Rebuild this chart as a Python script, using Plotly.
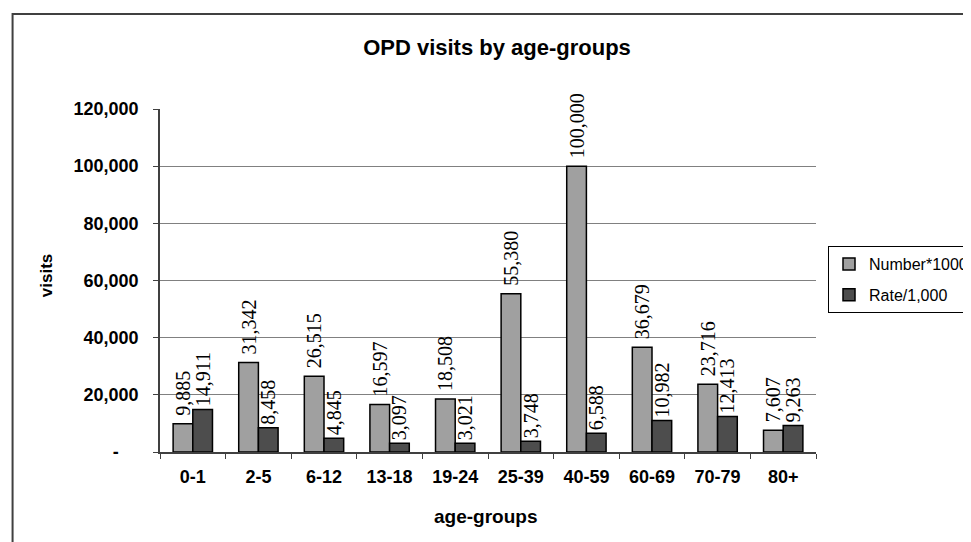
import plotly.graph_objects as go

age_groups = ["0-1", "2-5", "6-12", "13-18", "19-24", "25-39", "40-59", "60-69", "70-79", "80+"]
number_1000 = [9885, 31342, 26515, 16597, 18508, 55380, 100000, 36679, 23716, 7607]
rate_1000 = [14911, 8458, 4845, 3097, 3021, 3748, 6588, 10982, 12413, 9263]

y_tickvals = [0, 20000, 40000, 60000, 80000, 100000, 120000]
y_ticktext = ["-\u00a0\u00a0\u00a0\u00a0", "20,000", "40,000", "60,000", "80,000", "100,000", "120,000"]

SANS = "Liberation Sans"
SERIF = "Liberation Serif"

# the page body has an 8px margin, so the figure is drawn 8px smaller
W, H = 963, 534

fig = go.Figure()

fig.add_trace(
    go.Bar(
        x=age_groups,
        y=number_1000,
        name="Number*1000",
        legendgroup="a",
        marker={"color": "#A0A0A0", "line": {"color": "#000000", "width": 1.5}},
        texttemplate="\u00a0%{y:,}",
        textposition="outside",
        textangle=-90,
        constraintext="none",
        cliponaxis=False,
        textfont={"family": SERIF, "size": 20, "color": "#000000"},
    )
)

fig.add_trace(
    go.Bar(
        x=age_groups,
        y=rate_1000,
        name="Rate/1,000",
        legendgroup="b",
        marker={"color": "#4D4D4D", "line": {"color": "#000000", "width": 1.5}},
        texttemplate="%{y:,}",
        textposition="outside",
        textangle=-90,
        constraintext="none",
        cliponaxis=False,
        textfont={"family": SERIF, "size": 20, "color": "#000000"},
    )
)

fig.update_layout(
    width=W,
    height=H,
    margin={"l": 152, "r": 148, "t": 101, "b": 90},
    paper_bgcolor="white",
    plot_bgcolor="white",
    barmode="group",
    bargap=0.4,
    bargroupgap=0,
    title={
        "text": "OPD visits by age-groups",
        "x": 489 / W,
        "xref": "container",
        "xanchor": "center",
        "y": 1 - 39 / H,
        "yref": "container",
        "yanchor": "middle",
        "font": {"family": SANS, "size": 22, "color": "#000000", "weight": 700},
    },
    font={"family": SANS, "color": "#000000"},
    legend={
        "xref": "container",
        "yref": "container",
        "x": 820 / W,
        "y": 1 - 238 / H,
        "xanchor": "left",
        "yanchor": "top",
        "bordercolor": "#000000",
        "borderwidth": 1,
        "bgcolor": "white",
        "font": {"family": SANS, "size": 16, "color": "#000000"},
        "itemwidth": 30,
        "tracegroupgap": 7,
        "traceorder": "grouped",
    },
    xaxis={
        "type": "category",
        "showline": True,
        "linecolor": "#404040",
        "linewidth": 1.5,
        "ticks": "outside",
        "tickson": "boundaries",
        "ticklen": 5,
        "tickcolor": "#404040",
        "ticklabelstandoff": 8,
        "showgrid": False,
        "tickfont": {"family": SANS, "size": 18, "color": "#000000", "weight": 700},
    },
    yaxis={
        "range": [0, 120000],
        "tickvals": y_tickvals,
        "ticktext": y_ticktext,
        "showline": True,
        "linecolor": "#404040",
        "linewidth": 1.5,
        "ticks": "outside",
        "ticklen": 5,
        "tickcolor": "#404040",
        "ticklabelstandoff": 11,
        "showgrid": True,
        "gridcolor": "#808080",
        "gridwidth": 1,
        "zeroline": False,
        "tickfont": {"family": SANS, "size": 18, "color": "#000000", "weight": 700},
    },
    annotations=[
        {
            "text": "visits",
            "xref": "paper",
            "yref": "paper",
            "x": (45 - 160) / 663,
            "y": 1 - (276 - 109) / 343,
            "xanchor": "center",
            "yanchor": "middle",
            "textangle": -90,
            "showarrow": False,
            "font": {"family": SANS, "size": 17, "color": "#000000", "weight": 700},
        },
        {
            "text": "age-groups",
            "xref": "paper",
            "yref": "paper",
            "x": (489 - 160) / 663,
            "y": -(516 - 452) / 343,
            "xanchor": "center",
            "yanchor": "middle",
            "showarrow": False,
            "font": {"family": SANS, "size": 19, "color": "#000000", "weight": 700},
        },
    ],
    shapes=[
        {
            "type": "rect",
            "xref": "paper",
            "yref": "paper",
            "x0": (11 - 160) / 663,
            "x1": 1.3,
            "y0": -0.4,
            "y1": 1 + (109 - 14) / 343,
            "line": {"color": "#404040", "width": 2},
            "layer": "below",
        }
    ],
)

fig.write_html("out.html")
